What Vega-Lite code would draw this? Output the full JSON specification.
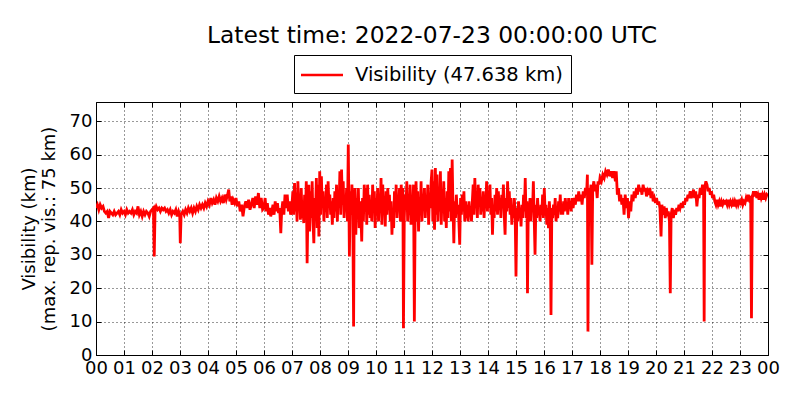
{
  "$schema": "https://vega.github.io/schema/vega-lite/v6.json",
  "description": "Visibility over one day, latest time 2022-07-23 00:00:00 UTC",
  "autosize": "none",
  "padding": {"left": 96, "top": 102, "right": 32, "bottom": 45},
  "width": 672,
  "height": 253,
  "title": {
    "text": "Latest time: 2022-07-23 00:00:00 UTC",
    "font": "DejaVu Sans",
    "fontSize": 23.4,
    "fontWeight": "normal",
    "color": "black",
    "anchor": "middle",
    "offset": 6
  },
  "datasets": {
    "vis": [
      {"h":0.00,"v":44},{"h":0.05,"v":45},{"h":0.10,"v":43.5},{"h":0.15,"v":45},{"h":0.20,"v":44},{"h":0.25,"v":44.5},{"h":0.30,"v":43},{"h":0.35,"v":42.5},{"h":0.40,"v":43},{"h":0.45,"v":41},{"h":0.50,"v":43},{"h":0.55,"v":42.5},{"h":0.60,"v":42},{"h":0.65,"v":43},{"h":0.70,"v":42},{"h":0.75,"v":42.5},{"h":0.80,"v":43},{"h":0.85,"v":42},{"h":0.90,"v":43.5},{"h":0.95,"v":42.5},
      {"h":1.00,"v":43},{"h":1.05,"v":42},{"h":1.10,"v":43.5},{"h":1.15,"v":42.5},{"h":1.20,"v":43},{"h":1.25,"v":42.5},{"h":1.30,"v":43.5},{"h":1.35,"v":42},{"h":1.40,"v":43},{"h":1.45,"v":42.5},{"h":1.50,"v":44.5},{"h":1.55,"v":42},{"h":1.60,"v":43},{"h":1.65,"v":41.5},{"h":1.70,"v":43},{"h":1.75,"v":42},{"h":1.80,"v":43},{"h":1.85,"v":42.5},{"h":1.90,"v":41.5},{"h":1.95,"v":43},
      {"h":2.00,"v":43.5},{"h":2.05,"v":44},{"h":2.08,"v":29.5},{"h":2.11,"v":43.5},{"h":2.15,"v":44.5},{"h":2.20,"v":43.5},{"h":2.25,"v":44},{"h":2.30,"v":43},{"h":2.35,"v":44},{"h":2.40,"v":43.5},{"h":2.45,"v":44},{"h":2.50,"v":43},{"h":2.55,"v":43.5},{"h":2.60,"v":42.5},{"h":2.65,"v":43.5},{"h":2.70,"v":42},{"h":2.75,"v":43},{"h":2.80,"v":42.5},{"h":2.85,"v":43.5},{"h":2.90,"v":41.5},{"h":2.95,"v":43},{"h":2.99,"v":42},
      {"h":3.01,"v":33.5},{"h":3.04,"v":42},{"h":3.10,"v":43},{"h":3.15,"v":42},{"h":3.20,"v":43.5},{"h":3.25,"v":42.5},{"h":3.30,"v":44},{"h":3.35,"v":43},{"h":3.40,"v":44},{"h":3.45,"v":42.5},{"h":3.50,"v":44},{"h":3.55,"v":43},{"h":3.60,"v":44.5},{"h":3.65,"v":43.5},{"h":3.70,"v":45},{"h":3.75,"v":44},{"h":3.80,"v":45},{"h":3.85,"v":44},{"h":3.90,"v":45.5},{"h":3.95,"v":44.5},
      {"h":4.00,"v":46},{"h":4.05,"v":45},{"h":4.10,"v":47},{"h":4.15,"v":45.5},{"h":4.20,"v":46.5},{"h":4.25,"v":45},{"h":4.30,"v":47},{"h":4.35,"v":46},{"h":4.40,"v":47.5},{"h":4.45,"v":46},{"h":4.50,"v":47},{"h":4.55,"v":45.5},{"h":4.60,"v":48},{"h":4.65,"v":46.5},{"h":4.70,"v":48},{"h":4.74,"v":49.5},{"h":4.78,"v":46},{"h":4.82,"v":47.5},{"h":4.86,"v":45},{"h":4.90,"v":46.5},{"h":4.95,"v":45.5},
      {"h":5.00,"v":47},{"h":5.05,"v":44.5},{"h":5.10,"v":46},{"h":5.15,"v":43},{"h":5.20,"v":45},{"h":5.25,"v":41.5},{"h":5.30,"v":44.5},{"h":5.35,"v":46},{"h":5.40,"v":44},{"h":5.45,"v":46.5},{"h":5.50,"v":43.5},{"h":5.55,"v":45},{"h":5.60,"v":47},{"h":5.65,"v":44},{"h":5.70,"v":47.5},{"h":5.75,"v":45},{"h":5.80,"v":48.5},{"h":5.85,"v":44},{"h":5.90,"v":47},{"h":5.95,"v":43.5},
      {"h":6.00,"v":44},{"h":6.04,"v":47},{"h":6.08,"v":43},{"h":6.12,"v":45.5},{"h":6.16,"v":42},{"h":6.20,"v":44},{"h":6.24,"v":41.5},{"h":6.28,"v":43},{"h":6.32,"v":45},{"h":6.36,"v":42},{"h":6.40,"v":46},{"h":6.44,"v":43},{"h":6.48,"v":45.5},{"h":6.52,"v":42.5},{"h":6.56,"v":44},{"h":6.60,"v":36.5},{"h":6.63,"v":43},{"h":6.67,"v":46},{"h":6.71,"v":42},{"h":6.75,"v":48},{"h":6.79,"v":44},{"h":6.83,"v":48},{"h":6.87,"v":43},{"h":6.91,"v":46},{"h":6.95,"v":42},
      {"h":7.00,"v":45},{"h":7.03,"v":49},{"h":7.06,"v":42},{"h":7.09,"v":51.5},{"h":7.12,"v":43},{"h":7.15,"v":48},{"h":7.18,"v":40},{"h":7.21,"v":52},{"h":7.24,"v":44},{"h":7.27,"v":47},{"h":7.30,"v":40.5},{"h":7.33,"v":50},{"h":7.36,"v":41},{"h":7.39,"v":45},{"h":7.42,"v":39.5},{"h":7.45,"v":48},{"h":7.48,"v":42},{"h":7.51,"v":52},{"h":7.54,"v":27.5},{"h":7.57,"v":44},{"h":7.60,"v":51},{"h":7.63,"v":37},{"h":7.66,"v":49},{"h":7.69,"v":41},{"h":7.72,"v":52},{"h":7.75,"v":40},{"h":7.78,"v":33.5},{"h":7.81,"v":47},{"h":7.84,"v":42},{"h":7.87,"v":53},{"h":7.90,"v":38},{"h":7.93,"v":51},{"h":7.96,"v":35.5},{"h":7.99,"v":55},
      {"h":8.02,"v":42},{"h":8.05,"v":53.5},{"h":8.08,"v":44},{"h":8.11,"v":49},{"h":8.14,"v":40},{"h":8.17,"v":47},{"h":8.20,"v":43},{"h":8.23,"v":51},{"h":8.26,"v":41},{"h":8.29,"v":52},{"h":8.32,"v":45},{"h":8.35,"v":48},{"h":8.38,"v":42},{"h":8.41,"v":46},{"h":8.44,"v":39},{"h":8.47,"v":47},{"h":8.50,"v":41},{"h":8.53,"v":49},{"h":8.56,"v":43},{"h":8.59,"v":51},{"h":8.62,"v":40},{"h":8.65,"v":49},{"h":8.68,"v":44},{"h":8.71,"v":55},{"h":8.74,"v":42},{"h":8.77,"v":55.5},{"h":8.80,"v":45},{"h":8.83,"v":52},{"h":8.86,"v":41},{"h":8.89,"v":47},{"h":8.92,"v":43},{"h":8.95,"v":50},{"h":8.98,"v":40},
      {"h":9.01,"v":63},{"h":9.03,"v":47},{"h":9.05,"v":29.5},{"h":9.08,"v":49},{"h":9.11,"v":42},{"h":9.14,"v":51},{"h":9.17,"v":44},{"h":9.20,"v":8.5},{"h":9.22,"v":43},{"h":9.25,"v":50},{"h":9.28,"v":36},{"h":9.31,"v":47},{"h":9.34,"v":41},{"h":9.37,"v":50},{"h":9.40,"v":38},{"h":9.43,"v":46},{"h":9.46,"v":42},{"h":9.49,"v":34},{"h":9.52,"v":47},{"h":9.55,"v":40},{"h":9.58,"v":51},{"h":9.61,"v":43},{"h":9.64,"v":50},{"h":9.67,"v":39},{"h":9.70,"v":51},{"h":9.73,"v":42},{"h":9.76,"v":48},{"h":9.79,"v":41},{"h":9.82,"v":46},{"h":9.85,"v":40},{"h":9.88,"v":51},{"h":9.91,"v":43},{"h":9.94,"v":49},{"h":9.97,"v":38},
      {"h":10.00,"v":47},{"h":10.03,"v":42},{"h":10.06,"v":50},{"h":10.09,"v":40},{"h":10.12,"v":47},{"h":10.15,"v":43},{"h":10.18,"v":53},{"h":10.21,"v":39},{"h":10.24,"v":51},{"h":10.27,"v":44},{"h":10.30,"v":47},{"h":10.33,"v":38.5},{"h":10.36,"v":49},{"h":10.39,"v":42},{"h":10.42,"v":50},{"h":10.45,"v":44},{"h":10.48,"v":48},{"h":10.51,"v":40},{"h":10.54,"v":46},{"h":10.57,"v":36},{"h":10.60,"v":44},{"h":10.63,"v":38},{"h":10.66,"v":49},{"h":10.69,"v":43},{"h":10.72,"v":51},{"h":10.75,"v":41},{"h":10.78,"v":47},{"h":10.81,"v":44},{"h":10.84,"v":50},{"h":10.87,"v":40},{"h":10.90,"v":51},{"h":10.93,"v":45},{"h":10.96,"v":50},{"h":10.98,"v":8},
      {"h":11.01,"v":41},{"h":11.04,"v":48},{"h":11.07,"v":44},{"h":11.10,"v":52},{"h":11.13,"v":40},{"h":11.16,"v":46},{"h":11.19,"v":42},{"h":11.22,"v":51},{"h":11.25,"v":39},{"h":11.28,"v":46},{"h":11.31,"v":43},{"h":11.34,"v":51},{"h":11.37,"v":10},{"h":11.40,"v":44},{"h":11.43,"v":52},{"h":11.46,"v":40},{"h":11.49,"v":49},{"h":11.52,"v":37},{"h":11.55,"v":47},{"h":11.58,"v":42},{"h":11.61,"v":52},{"h":11.64,"v":40},{"h":11.67,"v":48},{"h":11.70,"v":44},{"h":11.73,"v":50},{"h":11.76,"v":41},{"h":11.79,"v":48},{"h":11.82,"v":43},{"h":11.85,"v":51},{"h":11.88,"v":39},{"h":11.91,"v":48},{"h":11.94,"v":44},{"h":11.97,"v":52},
      {"h":12.00,"v":55.5},{"h":12.03,"v":40},{"h":12.06,"v":52},{"h":12.09,"v":37.5},{"h":12.12,"v":56},{"h":12.15,"v":42},{"h":12.18,"v":54},{"h":12.21,"v":40},{"h":12.24,"v":50},{"h":12.27,"v":43},{"h":12.30,"v":55},{"h":12.33,"v":39},{"h":12.36,"v":48},{"h":12.39,"v":44},{"h":12.42,"v":52},{"h":12.45,"v":40},{"h":12.48,"v":47},{"h":12.51,"v":38},{"h":12.54,"v":49},{"h":12.57,"v":41},{"h":12.60,"v":55},{"h":12.63,"v":43},{"h":12.66,"v":56},{"h":12.69,"v":40},{"h":12.72,"v":58.5},{"h":12.75,"v":44},{"h":12.78,"v":33.5},{"h":12.81,"v":46},{"h":12.84,"v":41},{"h":12.87,"v":48},{"h":12.90,"v":43},{"h":12.93,"v":45},{"h":12.96,"v":40},{"h":12.99,"v":33},
      {"h":13.02,"v":47},{"h":13.05,"v":42},{"h":13.08,"v":48},{"h":13.11,"v":43},{"h":13.14,"v":49},{"h":13.17,"v":40},{"h":13.20,"v":46},{"h":13.23,"v":41},{"h":13.26,"v":45},{"h":13.29,"v":40},{"h":13.32,"v":46},{"h":13.35,"v":42},{"h":13.38,"v":44},{"h":13.41,"v":40},{"h":13.44,"v":46},{"h":13.47,"v":51},{"h":13.50,"v":42},{"h":13.53,"v":53},{"h":13.56,"v":44},{"h":13.59,"v":48},{"h":13.62,"v":41},{"h":13.65,"v":51},{"h":13.68,"v":45},{"h":13.71,"v":50},{"h":13.74,"v":42},{"h":13.77,"v":47},{"h":13.80,"v":43},{"h":13.83,"v":49},{"h":13.86,"v":41},{"h":13.89,"v":47},{"h":13.92,"v":44},{"h":13.95,"v":52},{"h":13.98,"v":43},
      {"h":14.01,"v":49},{"h":14.04,"v":44},{"h":14.07,"v":51},{"h":14.10,"v":42},{"h":14.13,"v":47},{"h":14.16,"v":36},{"h":14.19,"v":45},{"h":14.22,"v":41},{"h":14.25,"v":48},{"h":14.28,"v":43},{"h":14.31,"v":50},{"h":14.34,"v":42},{"h":14.37,"v":49},{"h":14.40,"v":44},{"h":14.43,"v":47},{"h":14.46,"v":41},{"h":14.49,"v":48},{"h":14.52,"v":44},{"h":14.55,"v":51},{"h":14.58,"v":42},{"h":14.61,"v":36},{"h":14.64,"v":47},{"h":14.67,"v":43},{"h":14.70,"v":52},{"h":14.73,"v":44},{"h":14.76,"v":49},{"h":14.79,"v":42},{"h":14.82,"v":47},{"h":14.85,"v":39},{"h":14.88,"v":45},{"h":14.91,"v":41},{"h":14.94,"v":47},{"h":14.97,"v":42},
      {"h":15.00,"v":23.5},{"h":15.03,"v":44},{"h":15.06,"v":40},{"h":15.09,"v":46},{"h":15.12,"v":42},{"h":15.15,"v":44},{"h":15.18,"v":38.5},{"h":15.21,"v":45},{"h":15.24,"v":41},{"h":15.27,"v":48},{"h":15.30,"v":43},{"h":15.33,"v":53},{"h":15.36,"v":41},{"h":15.39,"v":46},{"h":15.41,"v":18.5},{"h":15.44,"v":45},{"h":15.47,"v":42},{"h":15.50,"v":47},{"h":15.53,"v":40},{"h":15.56,"v":46},{"h":15.59,"v":43},{"h":15.62,"v":52},{"h":15.65,"v":41},{"h":15.68,"v":30},{"h":15.71,"v":45},{"h":15.74,"v":41},{"h":15.77,"v":47},{"h":15.80,"v":42},{"h":15.83,"v":44},{"h":15.86,"v":40},{"h":15.89,"v":45},{"h":15.92,"v":42},{"h":15.95,"v":48},{"h":15.98,"v":41},
      {"h":16.01,"v":50},{"h":16.04,"v":43},{"h":16.07,"v":45},{"h":16.10,"v":39},{"h":16.13,"v":44},{"h":16.16,"v":38},{"h":16.19,"v":46},{"h":16.22,"v":42},{"h":16.25,"v":12},{"h":16.28,"v":44},{"h":16.31,"v":41},{"h":16.34,"v":45},{"h":16.37,"v":42},{"h":16.40,"v":47},{"h":16.43,"v":40},{"h":16.46,"v":44},{"h":16.49,"v":41},{"h":16.52,"v":46},{"h":16.55,"v":43},{"h":16.58,"v":48},{"h":16.61,"v":42},{"h":16.64,"v":45},{"h":16.67,"v":42},{"h":16.70,"v":46},{"h":16.73,"v":43},{"h":16.76,"v":47},{"h":16.79,"v":44},{"h":16.82,"v":45},{"h":16.85,"v":42},{"h":16.88,"v":47},{"h":16.91,"v":44},{"h":16.94,"v":46},{"h":16.97,"v":43},
      {"h":17.00,"v":47},{"h":17.04,"v":44},{"h":17.08,"v":47},{"h":17.12,"v":45},{"h":17.16,"v":48},{"h":17.20,"v":46},{"h":17.24,"v":49},{"h":17.28,"v":46},{"h":17.32,"v":48},{"h":17.36,"v":45},{"h":17.40,"v":49},{"h":17.44,"v":47},{"h":17.48,"v":50},{"h":17.52,"v":48},{"h":17.55,"v":54},{"h":17.57,"v":7},{"h":17.60,"v":50},{"h":17.64,"v":48},{"h":17.68,"v":51},{"h":17.71,"v":27},{"h":17.74,"v":50},{"h":17.78,"v":52},{"h":17.82,"v":49},{"h":17.86,"v":51},{"h":17.90,"v":47},{"h":17.93,"v":52},{"h":17.97,"v":51},
      {"h":18.00,"v":53},{"h":18.05,"v":52},{"h":18.10,"v":54},{"h":18.15,"v":53},{"h":18.20,"v":55},{"h":18.25,"v":54},{"h":18.30,"v":55.5},{"h":18.35,"v":53.5},{"h":18.40,"v":55},{"h":18.45,"v":53},{"h":18.50,"v":55},{"h":18.55,"v":52},{"h":18.58,"v":55},{"h":18.62,"v":48},{"h":18.66,"v":50},{"h":18.70,"v":46},{"h":18.74,"v":48},{"h":18.78,"v":45},{"h":18.82,"v":47},{"h":18.86,"v":42},{"h":18.90,"v":48},{"h":18.94,"v":44},{"h":18.98,"v":47},
      {"h":19.02,"v":41},{"h":19.06,"v":46},{"h":19.10,"v":43},{"h":19.14,"v":48},{"h":19.18,"v":46},{"h":19.22,"v":49},{"h":19.26,"v":47},{"h":19.30,"v":50},{"h":19.34,"v":48},{"h":19.38,"v":51},{"h":19.42,"v":49},{"h":19.46,"v":50},{"h":19.50,"v":48},{"h":19.54,"v":51},{"h":19.58,"v":49},{"h":19.62,"v":50},{"h":19.66,"v":47.5},{"h":19.70,"v":49},{"h":19.74,"v":48},{"h":19.78,"v":50},{"h":19.82,"v":47},{"h":19.86,"v":49},{"h":19.90,"v":46},{"h":19.94,"v":47},{"h":19.98,"v":45.5},
      {"h":20.02,"v":47},{"h":20.06,"v":45},{"h":20.10,"v":46},{"h":20.14,"v":44},{"h":20.18,"v":35.5},{"h":20.21,"v":45},{"h":20.25,"v":42},{"h":20.29,"v":44.5},{"h":20.33,"v":41},{"h":20.37,"v":44},{"h":20.41,"v":41.5},{"h":20.44,"v":43},{"h":20.48,"v":40},{"h":20.51,"v":18.5},{"h":20.54,"v":42},{"h":20.58,"v":44},{"h":20.62,"v":41},{"h":20.66,"v":43.5},{"h":20.70,"v":42},{"h":20.74,"v":44},{"h":20.78,"v":43},{"h":20.82,"v":45},{"h":20.86,"v":44},{"h":20.90,"v":45.5},{"h":20.94,"v":44},{"h":20.98,"v":46},
      {"h":21.02,"v":45},{"h":21.06,"v":47},{"h":21.10,"v":46},{"h":21.14,"v":48},{"h":21.18,"v":47},{"h":21.22,"v":49},{"h":21.26,"v":47},{"h":21.30,"v":48},{"h":21.34,"v":49.5},{"h":21.38,"v":47},{"h":21.42,"v":49},{"h":21.46,"v":44.5},{"h":21.50,"v":48},{"h":21.54,"v":47},{"h":21.58,"v":50},{"h":21.62,"v":48},{"h":21.66,"v":51},{"h":21.70,"v":48},{"h":21.72,"v":10},{"h":21.74,"v":50},{"h":21.78,"v":52},{"h":21.82,"v":51},{"h":21.86,"v":49},{"h":21.90,"v":50},{"h":21.94,"v":48},{"h":21.98,"v":49},
      {"h":22.02,"v":47},{"h":22.06,"v":48},{"h":22.10,"v":46},{"h":22.14,"v":45},{"h":22.18,"v":46.5},{"h":22.22,"v":45},{"h":22.26,"v":46},{"h":22.30,"v":44.5},{"h":22.34,"v":46},{"h":22.38,"v":45},{"h":22.42,"v":46},{"h":22.46,"v":45.5},{"h":22.50,"v":46},{"h":22.54,"v":45},{"h":22.58,"v":46.5},{"h":22.62,"v":45},{"h":22.66,"v":46},{"h":22.70,"v":45},{"h":22.74,"v":46},{"h":22.78,"v":44.5},{"h":22.82,"v":46},{"h":22.86,"v":45},{"h":22.90,"v":46.5},{"h":22.94,"v":45},{"h":22.98,"v":46},
      {"h":23.02,"v":45.5},{"h":23.06,"v":46.5},{"h":23.10,"v":45},{"h":23.14,"v":46},{"h":23.18,"v":45.5},{"h":23.22,"v":47},{"h":23.26,"v":46},{"h":23.30,"v":48},{"h":23.34,"v":46.5},{"h":23.38,"v":47},{"h":23.41,"v":11},{"h":23.44,"v":47},{"h":23.48,"v":49},{"h":23.52,"v":47.5},{"h":23.56,"v":49},{"h":23.60,"v":47},{"h":23.64,"v":48},{"h":23.68,"v":46.5},{"h":23.72,"v":48.5},{"h":23.76,"v":47},{"h":23.80,"v":48},{"h":23.84,"v":46.5},{"h":23.88,"v":48},{"h":23.92,"v":47},{"h":23.96,"v":48},{"h":24.00,"v":47.6}
    ],
    "edges": [{"h": 0}, {"h": 24}]
  },
  "layer": [
    {
      "data": {"name": "vis"},
      "mark": {"type": "line", "strokeWidth": 2.8, "clip": true},
      "encoding": {
        "x": {
          "field": "h",
          "type": "quantitative",
          "scale": {"domain": [0, 24], "nice": false, "zero": false},
          "axis": {
            "orient": "bottom",
            "title": null,
            "values": [0,1,2,3,4,5,6,7,8,9,10,11,12,13,14,15,16,17,18,19,20,21,22,23,24],
            "labelExpr": "(datum.value % 24) < 10 ? '0' + (datum.value % 24) : '' + datum.value",
            "labelOverlap": false,
            "labelFlush": false,
            "labelBound": false,
            "grid": true
          }
        },
        "y": {
          "field": "v",
          "type": "quantitative",
          "scale": {"domain": [0, 75.75], "nice": false},
          "axis": {
            "orient": "left",
            "title": ["Visibility (km)", "(max. rep. vis.: 75 km)"],
            "titlePadding": 11,
            "values": [0,10,20,30,40,50,60,70],
            "labelOverlap": false,
            "labelFlush": false,
            "grid": true
          }
        },
        "color": {
          "datum": "Visibility (47.638 km)",
          "type": "nominal",
          "scale": {"range": ["#ff0000"]},
          "legend": {
            "orient": "none",
            "legendX": 198,
            "legendY": -47,
            "title": null,
            "symbolType": "M-2,0H2",
            "symbolSize": 441,
            "symbolStrokeWidth": 2.5,
            "symbolFillColor": "transparent",
            "symbolOffset": 8,
            "labelFont": "DejaVu Sans",
            "labelFontSize": 19.5,
            "labelColor": "black",
            "labelOffset": 21,
            "labelLimit": 400,
            "strokeColor": "black",
            "fillColor": "white",
            "padding": 8,
            "cornerRadius": 0
          }
        }
      }
    },
    {
      "mark": {"type": "rule", "color": "#8c8c8c", "strokeWidth": 3.5},
      "encoding": {
        "y": {
          "datum": 75,
          "type": "quantitative",
          "axis": {"orient": "right", "labels": false, "title": null, "values": [0,10,20,30,40,50,60,70], "grid": false}
        }
      }
    },
    {
      "data": {"name": "edges"},
      "mark": {"type": "point", "opacity": 0},
      "encoding": {
        "x": {
          "field": "h",
          "type": "quantitative",
          "axis": {"orient": "top", "labels": false, "title": null, "values": [0,1,2,3,4,5,6,7,8,9,10,11,12,13,14,15,16,17,18,19,20,21,22,23,24], "grid": false}
        },
        "y": {"datum": 0, "type": "quantitative", "axis": null}
      }
    }
  ],
  "resolve": {"axis": {"x": "independent", "y": "independent"}},
  "config": {
    "font": "DejaVu Sans",
    "view": {"stroke": "black", "strokeWidth": 1},
    "axis": {
      "domain": false,
      "ticks": true,
      "tickSize": -5,
      "tickColor": "black",
      "tickWidth": 1,
      "labelPadding": 9,
      "labelFont": "DejaVu Sans",
      "labelFontSize": 18,
      "labelColor": "black",
      "titleFont": "DejaVu Sans",
      "titleFontSize": 18,
      "titleFontWeight": "normal",
      "titleColor": "black",
      "gridColor": "black",
      "gridDash": [1, 3],
      "gridWidth": 1,
      "gridOpacity": 0.8
    }
  }
}
